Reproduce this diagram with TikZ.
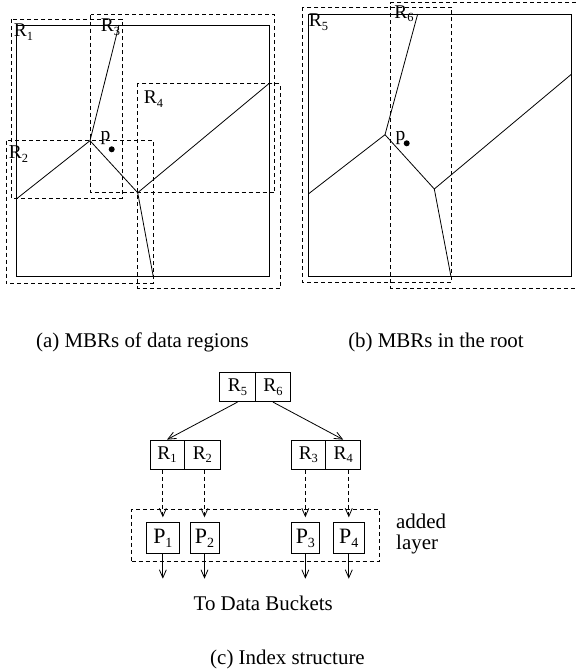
\documentclass[tikz,border=0pt]{standalone}
\usepackage{fontspec}
\setmainfont{Liberation Serif}
\usetikzlibrary{arrows.meta}
\newcommand\sbs[1]{\raisebox{-0.4ex}{\scalebox{0.64}{#1}}}
\begin{document}
\begin{tikzpicture}[x=1bp,y=-1bp,
  solidln/.style={line width=0.8bp},
  dashln/.style={line width=0.8bp, dash pattern=on 4bp off 3bp},
  lbl/.style={inner sep=0pt, font=\fontsize{19.5}{21}\selectfont},
  captxt/.style={inner sep=0pt, font=\fontsize{21}{22}\selectfont},
  cell/.style={draw, line width=0.8bp, inner sep=0pt, minimum height=29.4bp, font=\fontsize{19.5}{21}\selectfont},
  pcell/.style={draw, line width=0.8bp, inner sep=0pt, minimum height=30.6bp, font=\fontsize{22}{24}\selectfont},
  tip/.style={-{Straight Barb[length=8bp,width=7bp]}}
]
\useasboundingbox (0,0) rectangle (576,672);

% ---------- (a) ----------
\draw[solidln] (16.7,25) rectangle (269.3,276.7);
\coordinate (aA) at (119,25);
\coordinate (aB) at (90,140.7);
\coordinate (aC) at (16.7,198.7);
\coordinate (aD) at (137.7,192.7);
\coordinate (aE) at (269.3,83.3);
\coordinate (aF) at (153.3,276.7);
\draw[solidln] (aA) -- (aB) -- (aC);
\draw[solidln] (aB) -- (aD) -- (aE);
\draw[solidln] (aD) -- (aF);
\draw[dashln] (11.7,19.3) rectangle (122,198.7);
\draw[dashln] (90.7,14.7) rectangle (274.7,192.7);
\draw[dashln] (137.7,83.3) rectangle (280,288.3);
\draw[dashln] (6,140.7) rectangle (153.3,283.3);
\fill (111.7,149.3) circle (3bp);
\node[lbl] (la1) at (23.5,32) {R\sbs{1}};
\node[lbl] (la3) at (110.5,27) {R\sbs{3}};
\node[lbl] (la4) at (153.5,99) {R\sbs{4}};
\node[lbl] (la2) at (18.5,154) {R\sbs{2}};
\node[lbl] (lpa) at (105.5,138) {p};

% ---------- (b) ----------
\draw[solidln] (308.3,14) rectangle (571.7,276.7);
\coordinate (bA) at (417.7,14);
\coordinate (bB) at (385,134.7);
\coordinate (bC) at (308.3,194);
\coordinate (bD) at (434.3,189);
\coordinate (bE) at (571.7,74);
\coordinate (bF) at (451,276.7);
\draw[solidln] (bA) -- (bB) -- (bC);
\draw[solidln] (bB) -- (bD) -- (bE);
\draw[solidln] (bD) -- (bF);
\draw[dashln] (302.7,7.3) rectangle (451.7,282.7);
\draw[dashln] (576,2.7) -- (390.7,2.7) -- (390.7,288.3) -- (576,288.3);
\fill (406.7,143.3) circle (3bp);
\node[lbl] (lb5) at (318.5,22) {R\sbs{5}};
\node[lbl] (lb6) at (404,13.5) {R\sbs{6}};
\node[lbl] (lpb) at (400.5,138) {p};

% ---------- captions ----------
\node[captxt] (capa) at (142.5,342) {(a) MBRs of data regions};
\node[captxt] (capb) at (436,342) {(b) MBRs in the root};

% ---------- (c) tree ----------
\node[cell, minimum width=35.5bp] (r5) at (237.5,387) {R\sbs{5}};
\node[cell, minimum width=35.5bp] (r6) at (273,387) {R\sbs{6}};
\node[cell, minimum width=34bp] (r1) at (167,454.7) {R\sbs{1}};
\node[cell, minimum width=36.7bp] (r2) at (202.35,454.7) {R\sbs{2}};
\node[cell, minimum width=34.7bp] (r3) at (308.35,454.7) {R\sbs{3}};
\node[cell, minimum width=35bp] (r4) at (343.2,454.7) {R\sbs{4}};

\draw[solidln, tip] (r5.south) -- (r1.north);
\draw[solidln, tip] (r6.south) -- (r4.north);

\node[draw, dashln, inner sep=0pt, minimum width=247.6bp, minimum height=52bp] (layer) at (255.5,535) {};
\node[captxt, align=left, anchor=west] (addl) at (396,534) {added\\layer};

\node[pcell, minimum width=32.3bp] (p1) at (162.85,538) {P\sbs{1}};
\node[pcell, minimum width=29bp] (p2) at (204.5,538) {P\sbs{2}};
\node[pcell, minimum width=27.3bp] (p3) at (305.35,538) {P\sbs{3}};
\node[pcell, minimum width=31bp] (p4) at (348.8,538) {P\sbs{4}};

\draw[dashln, tip, shorten >=5bp] (p1.north |- r1.south) -- (p1.north);
\draw[dashln, tip, shorten >=5bp] (p2.north |- r2.south) -- (p2.north);
\draw[dashln, tip, shorten >=5bp] (p3.north |- r3.south) -- (p3.north);
\draw[dashln, tip, shorten >=5bp] (p4.north |- r4.south) -- (p4.north);

\coordinate (e1) at ([yshift=-25bp]p1.south);
\coordinate (e2) at ([yshift=-25bp]p2.south);
\coordinate (e3) at ([yshift=-25bp]p3.south);
\coordinate (e4) at ([yshift=-25bp]p4.south);
\draw[solidln, tip] (p1.south) -- (e1);
\draw[solidln, tip] (p2.south) -- (e2);
\draw[solidln, tip] (p3.south) -- (e3);
\draw[solidln, tip] (p4.south) -- (e4);

\node[captxt] (todb) at (263.3,603) {To Data Buckets};
\node[captxt] (capc) at (287.5,659) {(c) Index structure};
\end{tikzpicture}
\end{document}
